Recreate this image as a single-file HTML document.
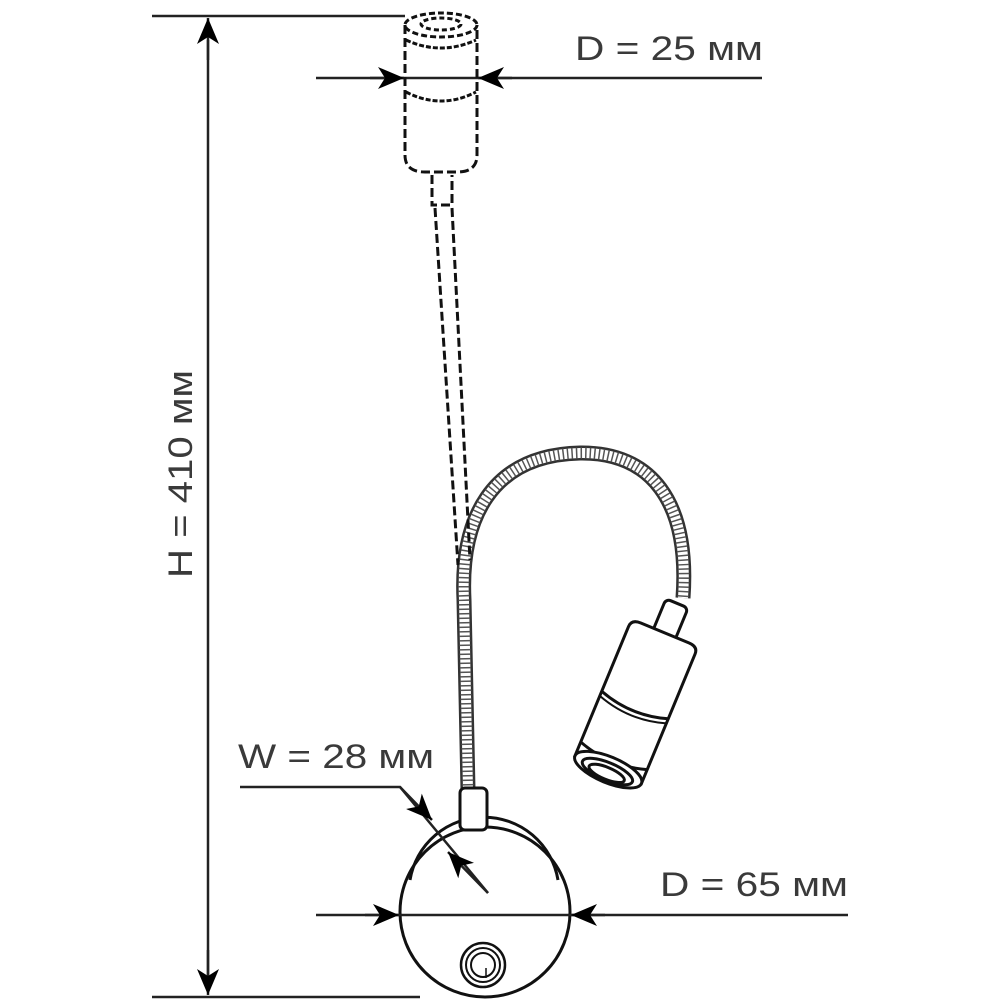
<!DOCTYPE html>
<html><head><meta charset="utf-8"><style>
html,body{margin:0;padding:0;background:#fff;}
svg{display:block}
text{font-family:"Liberation Sans",sans-serif;fill:#3a3a3a;font-size:34px;}
</style></head><body>
<svg width="1000" height="1000" viewBox="0 0 1000 1000" xmlns="http://www.w3.org/2000/svg">
<defs>
<marker id="a" viewBox="0 0 26 22" refX="26" refY="11" markerWidth="26" markerHeight="22" markerUnits="userSpaceOnUse" orient="auto">
<path d="M0,0 L26,11 L0,22 L7,11 Z" fill="#000"/>
</marker>
</defs>
<!-- gooseneck -->
<path d="M468,790 L464,600 C460,520 490,455 580,453 C650,452 690,500 683,598" fill="none" stroke="#333" stroke-width="15"/>
<path d="M468,790 L464,600 C460,520 490,455 580,453 C650,452 690,500 683,598" fill="none" stroke="#fff" stroke-width="10"/>
<path d="M468,790 L464,600 C460,520 490,455 580,453 C650,452 690,500 683,598" fill="none" stroke="#555" stroke-width="11" stroke-dasharray="1.5,3"/>
<!-- base -->
<g stroke="#111" stroke-width="3" fill="none">
<path d="M410,880 A75,75 0 0 1 558,880"/>
<circle cx="485" cy="912" r="85"/>
<rect x="460" y="788" width="27" height="42" rx="5" fill="#fff"/>
<circle cx="483" cy="965" r="22" stroke-width="2.5"/>
<circle cx="483" cy="965" r="17" stroke-width="2"/>
<circle cx="483" cy="965" r="12" stroke-width="2"/>
<line x1="486" y1="968" x2="486" y2="978" stroke-width="1.5"/>
</g>
<g stroke="#222" stroke-width="2.5" fill="none">
<!-- H dimension -->
<line x1="152" y1="16" x2="405" y2="16"/>
<line x1="152" y1="997" x2="420" y2="997"/>
<line x1="208" y1="40" x2="208" y2="975"/>
<line x1="208" y1="60" x2="208" y2="18" marker-end="url(#a)"/>
<line x1="208" y1="950" x2="208" y2="995" marker-end="url(#a)"/>
<!-- D=25 -->
<line x1="316" y1="78" x2="762" y2="78"/>
<line x1="370" y1="78" x2="404" y2="78" marker-end="url(#a)"/>
<line x1="512" y1="78" x2="478" y2="78" marker-end="url(#a)"/>
<!-- D=65 -->
<line x1="316" y1="915" x2="848" y2="915"/>
<line x1="365" y1="915" x2="399" y2="915" marker-end="url(#a)"/>
<line x1="605" y1="915" x2="571" y2="915" marker-end="url(#a)"/>
<!-- W=28 -->
<polyline points="240,787 400,787 488,893"/>
<line x1="400" y1="787" x2="432" y2="820" marker-end="url(#a)"/>
<line x1="488" y1="893" x2="448" y2="852" marker-end="url(#a)"/>
</g>
<!-- top lamp dashed -->
<g stroke="#111" stroke-width="3" fill="none" stroke-dasharray="9,4">
<ellipse cx="441" cy="25" rx="36" ry="12" stroke-dasharray="6,3"/>
<ellipse cx="441" cy="24" rx="20" ry="6" stroke-dasharray="5,3"/>
<path d="M405,25 L405,155 Q405,172 425,172 L457,172 Q477,172 477,155 L477,25"/>
<path d="M406,40 Q441,56 476,40" stroke-dasharray="5,2"/>
<path d="M406,92 Q441,110 476,92" stroke-dasharray="5,2"/>
<path d="M432,175 L432,205 L452,205 L452,175"/>
<line x1="435" y1="208" x2="458" y2="565"/>
<line x1="452" y1="208" x2="470" y2="560"/>
</g>
<!-- right lamp -->
<g transform="translate(635,705) rotate(22.5)" stroke="#111" stroke-width="3" fill="#fff">
<rect x="-12" y="-110" width="24" height="36" rx="5"/>
<path d="M-36,-70 Q-36,-78 -26,-78 L26,-78 Q36,-78 36,-70 L36,70 L-36,70 Z"/>
<path d="M-36,0 Q0,12 36,0" fill="none"/>
<path d="M-36,5 Q0,17 36,5" fill="none" stroke-width="2"/>
<path d="M-36,55 Q0,67 36,55" fill="none"/>
<ellipse cx="0" cy="70" rx="36" ry="13"/>
<ellipse cx="0" cy="72" rx="27" ry="9"/>
<ellipse cx="0" cy="74" rx="19" ry="6"/>
</g>
<!-- labels -->
<text x="575" y="60" textLength="188" lengthAdjust="spacingAndGlyphs">D = 25 мм</text>
<text x="660" y="896" textLength="188" lengthAdjust="spacingAndGlyphs">D = 65 мм</text>
<text x="238" y="768" textLength="196" lengthAdjust="spacingAndGlyphs">W = 28 мм</text>
<text transform="translate(192,578) rotate(-90)" textLength="208" lengthAdjust="spacingAndGlyphs">H = 410 мм</text>
</svg>
</body></html>
